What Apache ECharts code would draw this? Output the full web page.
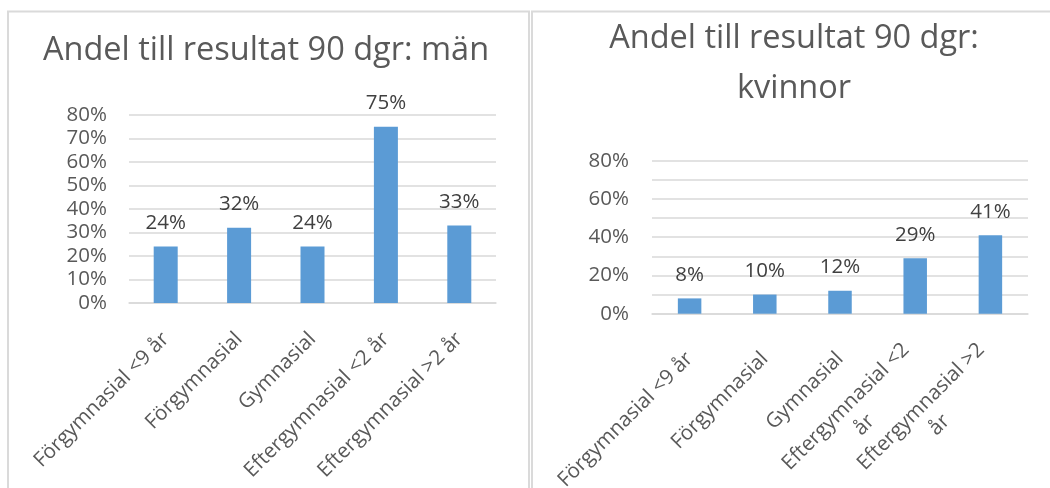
<!DOCTYPE html>
<html>
<head>
<meta charset="utf-8">
<script src="https://cdn.jsdelivr.net/npm/echarts@6/dist/echarts.min.js"></script>
<style>
html,body{margin:0;padding:0;background:#fff;}
#chart{width:1050px;height:488px;}
</style>
</head>
<body>
<div id="chart"></div>
<script>
const categories = ['Förgymnasial <9 år', 'Förgymnasial', 'Gymnasial', 'Eftergymnasial <2 år', 'Eftergymnasial >2 år'];
const menValues = [24, 32, 24, 75, 33];
const womenValues = [8, 10, 12, 29, 41];
const titleMen = 'Andel till resultat 90 dgr: män';
const titleWomen = 'Andel till resultat 90 dgr:\nkvinnor';
const yMin = 0, yMax = 80, yStep = 10;

const FONT = '"Open Sans"';
const BAR = '#5B9BD5';
const GRID = '#d9d9d9';
const LABEL = '#595959';
const FS = 20.5;
const FS_CAT = 20.5;

const chart = echarts.init(document.getElementById('chart'), null, {renderer: 'canvas'});

function yAxis(gridIndex, labelEvery, margin) {
  return {
    type: 'value', gridIndex, min: yMin, max: yMax, interval: yStep,
    axisLine: {show: false}, axisTick: {show: false},
    splitLine: {lineStyle: {color: GRID, width: 1.5}},
    axisLabel: {
      margin, color: LABEL, fontFamily: FONT, fontSize: FS,
      formatter: v => (v % labelEvery === 0 ? v + '%' : '')
    }
  };
}
function xAxis(gridIndex, margin, wrap) {
  return {
    type: 'category', gridIndex, data: categories,
    axisLine: {lineStyle: {color: GRID, width: 1.5}},
    axisTick: {show: false},
    axisLabel: {
      interval: 0, rotate: 45, margin, color: LABEL, fontFamily: FONT, fontSize: FS_CAT,
      formatter: v => {
        let parts = [v];
        if (wrap && v.startsWith('Efter')) {
          const i = v.lastIndexOf(' ');
          parts = [v.slice(0, i), v.slice(i + 1)];
        }
        return parts.map(p => '{c|' + p + '}').join('\n');
      },
      rich: {c: {align: 'center', color: LABEL, fontFamily: FONT, fontSize: FS_CAT, lineHeight: 26}}
    }
  };
}
function bars(idx, data, width) {
  return {
    type: 'bar', xAxisIndex: idx, yAxisIndex: idx, data, barWidth: width,
    itemStyle: {color: BAR},
    label: {show: true, position: 'top', distance: 13, color: '#404040', fontFamily: FONT, fontSize: FS,
      formatter: p => p.value + '%'}
  };
}

chart.setOption({
  animation: false,
  backgroundColor: '#fff',
  title: [
    {text: titleMen, left: 261, top: 25, textAlign: 'center',
      textStyle: {color: LABEL, fontFamily: FONT, fontWeight: 'normal', fontSize: 32.5, lineHeight: 42}},
    {text: titleWomen, left: 789, top: 9, textAlign: 'center',
      textStyle: {color: LABEL, fontFamily: FONT, fontWeight: 'normal', fontSize: 32.5, lineHeight: 50}}
  ],
  grid: [
    {left: 129, top: 115, width: 367, height: 188, outerBoundsMode: 'none', containLabel: false},
    {left: 652, top: 160.7, width: 376, height: 153, outerBoundsMode: 'none', containLabel: false}
  ],
  xAxis: [xAxis(0, 33, false), xAxis(1, 42, true)],
  yAxis: [yAxis(0, 10, 22), yAxis(1, 20, 23)],
  series: [bars(0, menValues, 24), bars(1, womenValues, 23.5)],
  graphic: [
    {type: 'rect', shape: {x: 8, y: 11.5, width: 521, height: 520}, style: {fill: 'none', stroke: '#dadada', lineWidth: 2}, silent: true},
    {type: 'rect', shape: {x: 532, y: 11.5, width: 600, height: 520}, style: {fill: 'none', stroke: '#dadada', lineWidth: 2}, silent: true}
  ]
});
</script>
</body>
</html>
